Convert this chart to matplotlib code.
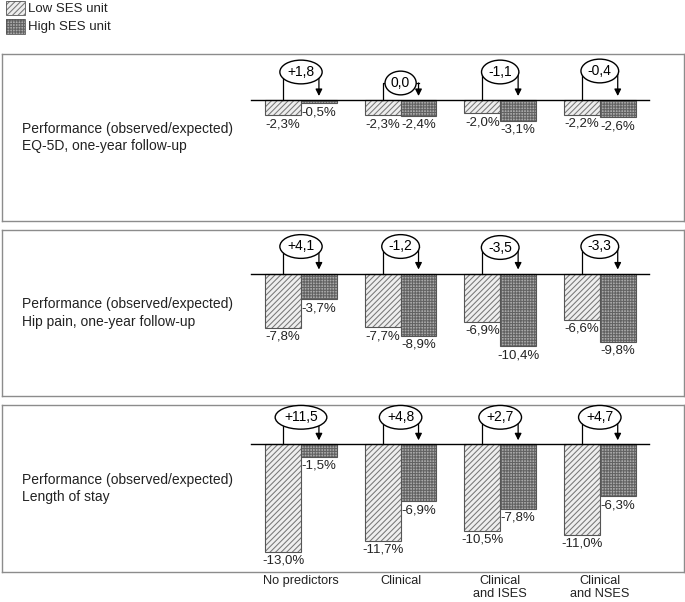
import matplotlib
matplotlib.use('Agg')
import matplotlib.pyplot as plt
from matplotlib.patches import Rectangle

plt.rcParams['font.family'] = ['Liberation Sans', 'DejaVu Sans']
plt.rcParams['hatch.linewidth'] = 0.75

# data
groups = ['No predictors', 'Clinical', 'Clinical\nand ISES', 'Clinical\nand NSES']
titles = ['Performance (observed/expected)\nEQ-5D, one-year follow-up',
          'Performance (observed/expected)\nHip pain, one-year follow-up',
          'Performance (observed/expected)\nLength of stay']
low_eq5d = [-2.3, -2.3, -2.0, -2.2]
high_eq5d = [-0.5, -2.4, -3.1, -2.6]
diff_eq5d = ['+1,8', '0,0', '-1,1', '-0,4']
low_hip = [-7.8, -7.7, -6.9, -6.6]
high_hip = [-3.7, -8.9, -10.4, -9.8]
diff_hip = ['+4,1', '-1,2', '-3,5', '-3,3']
low_los = [-13.0, -11.7, -10.5, -11.0]
high_los = [-1.5, -6.9, -7.8, -6.3]
diff_los = ['+11,5', '+4,8', '+2,7', '+4,7']

lows = [low_eq5d, low_hip, low_los]
highs = [high_eq5d, high_hip, high_los]
diffs = [diff_eq5d, diff_hip, diff_los]

W, H = 685, 602
# panel boxes in pixels: top, bottom, baseline, px per %
panels = [(54, 221, 100, 6.7), (230, 396, 273.5, 7.0), (405, 572, 444.3, 8.25)]
bracket_px = [[28, 17, 28, 29], [27, 27, 26, 27], [27, 27, 27, 27]]
x0, x1 = 1.5, 683.5
gx0, gstep = 301, 99.6
bw = 0.36

low_face, low_hatch = '#eeeeee', '#777777'
high_face, high_hatch = '#aaaaaa', '#626262'
edge = '#555555'

fig = plt.figure(figsize=(W / 100, H / 100), dpi=100)


def fx(px):
    return px / W


def fy(py):
    return 1 - py / H


for k, (top, bot, base, sc) in enumerate(panels):
    ax = fig.add_axes([fx(x0), fy(bot), fx(x1 - x0), (bot - top) / H])
    ax.set_xlim((x0 - gx0) / gstep, (x1 - gx0) / gstep)
    ax.set_ylim(-(bot - base) / sc, (base - top) / sc)
    for s in ax.spines.values():
        s.set_color('#8c8c8c')
        s.set_linewidth(1)
    ax.set_yticks([])
    ax.tick_params(length=0)

    xs = range(len(groups))
    xl = [i - bw / 2 for i in xs]
    xh = [i + bw / 2 for i in xs]
    ax.bar(xl, lows[k], bw, color=low_face, edgecolor=low_hatch, hatch='//////', lw=0)
    ax.bar(xl, lows[k], bw, fill=False, edgecolor=edge, lw=0.8)
    ax.bar(xh, highs[k], bw, color=high_face, edgecolor=high_hatch, hatch='++++++', lw=0)
    ax.bar(xh, highs[k], bw, fill=False, edgecolor=edge, lw=0.8)

    ax.plot([(251 - gx0) / gstep, (649 - gx0) / gstep], [0, 0], color='black', lw=1, zorder=3)

    for i in xs:
        for xx, v in ((xl[i], lows[k][i]), (xh[i], highs[k][i])):
            ax.annotate(f'{v:.1f}%'.replace('.', ','), (xx, v), xytext=(0, -2),
                        textcoords='offset points', ha='center', va='top', fontsize=9.5,
                        color='#222222')
        lev = bracket_px[k][i] / sc
        ax.plot([xl[i], xl[i], xh[i]], [0, lev, lev], color='black', lw=0.9, zorder=4)
        ax.annotate('', xy=(xh[i], 4 / sc), xytext=(xh[i], lev),
                    arrowprops=dict(arrowstyle='-|>', color='black', lw=0.9,
                                    shrinkA=0, shrinkB=0, mutation_scale=10), zorder=4)
        ax.text(i, lev, diffs[k][i], ha='center', va='center', fontsize=10, zorder=6,
                bbox=dict(boxstyle='ellipse,pad=0.1', fc='white', ec='black', lw=1.0))

    ax.text((21.7 - x0) / (x1 - x0), 0.5, titles[k], transform=ax.transAxes,
            ha='left', va='center', fontsize=10, linespacing=1.35, color='#222222')

    if k == 2:
        ax.set_xticks(list(xs))
        ax.set_xticklabels(groups, fontsize=9.2, linespacing=1.1, color='#222222')
        ax.tick_params(axis='x', pad=2)
    else:
        ax.set_xticks([])

# legend
leg = [('Low SES unit', low_face, low_hatch, '//////', 1), ('High SES unit', high_face, high_hatch, '++++++', 19.5)]
for name, fc, hc, hp, ty in leg:
    fig.patches.append(Rectangle((fx(6), fy(ty + 14)), fx(19), 14 / H, transform=fig.transFigure,
                                 facecolor=fc, edgecolor=hc, hatch=hp, lw=0))
    fig.patches.append(Rectangle((fx(6), fy(ty + 14)), fx(19), 14 / H, transform=fig.transFigure,
                                 fill=False, edgecolor=edge, lw=0.6))
    fig.text(fx(28), fy(ty + 7.5), name, ha='left', va='center', fontsize=9.5, color='#222222')

fig.savefig('out.png', dpi=100)
